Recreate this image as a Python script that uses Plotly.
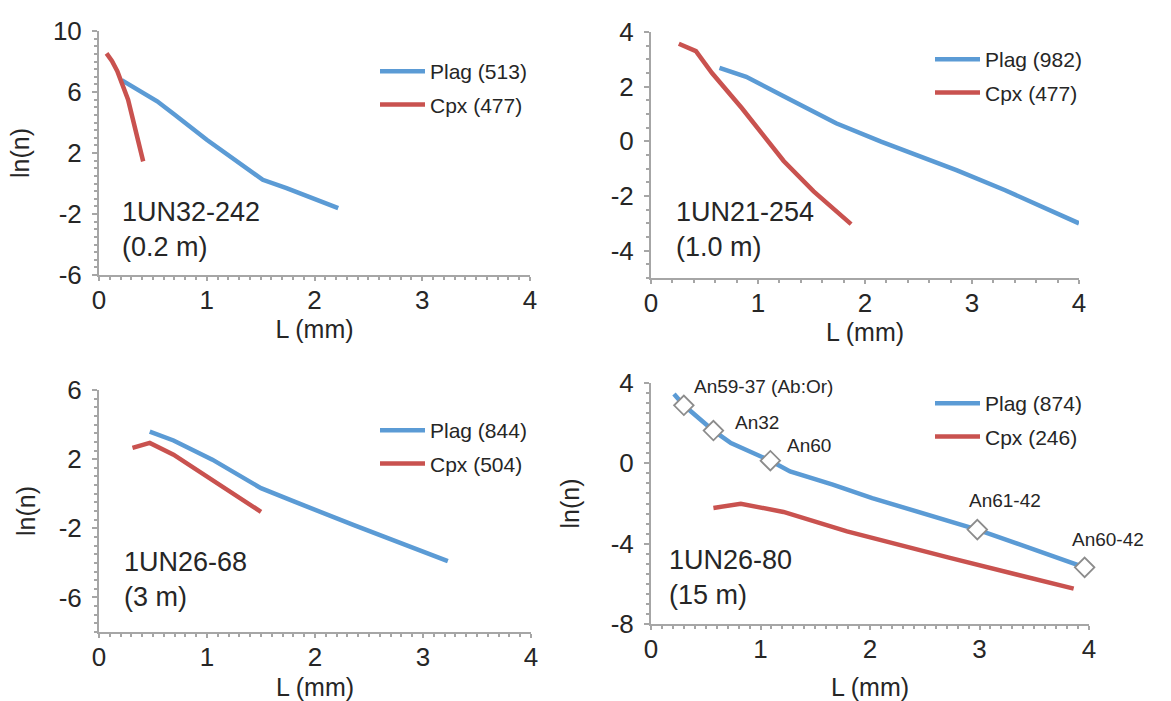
import plotly.graph_objects as go

# ---------------- data ----------------
# Panel 1: 1UN32-242 (0.2 m)
p1_plag_L = [0.21, 0.32, 0.54, 0.70, 1.00, 1.52, 1.74, 2.22]
p1_plag_ln = [6.78, 6.34, 5.39, 4.52, 2.87, 0.24, -0.30, -1.62]
p1_cpx_L = [0.07, 0.12, 0.17, 0.27, 0.41]
p1_cpx_ln = [8.53, 8.03, 7.37, 5.50, 1.45]

# Panel 2: 1UN21-254 (1.0 m)
p2_plag_L = [0.64, 0.89, 1.24, 1.73, 2.15, 2.86, 3.31, 4.00]
p2_plag_ln = [2.69, 2.36, 1.65, 0.66, -0.01, -1.06, -1.79, -3.00]
p2_cpx_L = [0.26, 0.42, 0.57, 0.85, 1.24, 1.52, 1.87]
p2_cpx_ln = [3.57, 3.30, 2.50, 1.21, -0.72, -1.83, -3.03]

# Panel 3: 1UN26-68 (3 m)
p3_plag_L = [0.47, 0.69, 1.05, 1.50, 1.81, 2.36, 3.23]
p3_plag_ln = [3.59, 3.08, 1.97, 0.32, -0.46, -1.82, -3.90]
p3_cpx_L = [0.31, 0.47, 0.69, 1.05, 1.50]
p3_cpx_ln = [2.65, 2.94, 2.26, 0.80, -1.05]

# Panel 4: 1UN26-80 (15 m)
p4_plag_L = [0.21, 0.30, 0.57, 0.73, 1.09, 1.27, 1.66, 2.02, 2.98, 3.96]
p4_plag_ln = [3.45, 2.89, 1.63, 1.01, 0.13, -0.40, -1.06, -1.73, -3.30, -5.18]
p4_cpx_L = [0.57, 0.82, 1.21, 1.79, 2.73, 3.86]
p4_cpx_ln = [-2.22, -2.01, -2.42, -3.39, -4.71, -6.24]

p4_comp_L = [0.30, 0.57, 1.09, 2.98, 3.96]
p4_comp_ln = [2.89, 1.63, 0.13, -3.30, -5.18]
p4_comp_labels = ["An59-37 (Ab:Or)", "An32", "An60", "An61-42", "An60-42"]

plag_names = ["Plag (513)", "Plag (982)", "Plag (844)", "Plag (874)"]
cpx_names = ["Cpx (477)", "Cpx (477)", "Cpx (504)", "Cpx (246)"]
sample_names = ["1UN32-242<br>(0.2 m)", "1UN21-254<br>(1.0 m)",
                "1UN26-68<br>(3 m)", "1UN26-80<br>(15 m)"]

x_ticks = [0, 1, 2, 3, 4]
y_ticks = [[-6, -2, 2, 6, 10], [-4, -2, 0, 2, 4], [-6, -2, 2, 6], [-8, -4, 0, 4]]
y_ranges = [[-6, 10], [-5, 4], [-8, 6], [-8, 4]]

x_label = "L (mm)"
y_label = "ln(n)"

# ---------------- styling ----------------
W, H = 1171, 701
BLUE = "#5B9BD5"
RED = "#C9524F"
AXC = "#A6A6A6"
TXT = "#262626"
FONT = "Liberation Sans, Arial, sans-serif"

# pixel boxes of each plot area: (left, right, top, bottom)
boxes = [(99, 530, 31, 275), (651, 1079, 32, 278),
         (99, 531, 390, 632), (651, 1089, 383, 624)]
ytitle_on = [True, False, True, True]
ytitle_standoff = [16, 16, 16, 24]
xminor = [0.1, 0.2, 0.1, 0.1]
yminor = [0.5, 0.5, 0.5, 0.5]
xtitle_standoff = [6, 6, 11, 19]
legend_pos = [(375, 51), (930, 39), (375, 410), (930, 383)]
sample_pos = [(120, 230), (674, 230), (122, 579), (667, 577)]

data = [
    (p1_plag_L, p1_plag_ln, p1_cpx_L, p1_cpx_ln),
    (p2_plag_L, p2_plag_ln, p2_cpx_L, p2_cpx_ln),
    (p3_plag_L, p3_plag_ln, p3_cpx_L, p3_cpx_ln),
    (p4_plag_L, p4_plag_ln, p4_cpx_L, p4_cpx_ln),
]

fig = go.Figure()
layout = dict(
    width=W, height=H, margin=dict(l=0, r=0, t=0, b=0, autoexpand=False),
    paper_bgcolor="white", plot_bgcolor="white",
    font=dict(family=FONT, color=TXT),
    showlegend=True,
)
annotations = []

for i in range(4):
    sfx = "" if i == 0 else str(i + 1)
    xa, ya = "x" + sfx, "y" + sfx
    leg = "legend" + sfx
    pl, pln, cl, cln = data[i]
    fig.add_trace(go.Scatter(x=pl, y=pln, mode="lines", name=plag_names[i],
                             line=dict(color=BLUE, width=4.5), xaxis=xa, yaxis=ya,
                             legend=leg, legendgroup="plag" + sfx))
    fig.add_trace(go.Scatter(x=cl, y=cln, mode="lines", name=cpx_names[i],
                             line=dict(color=RED, width=4.5), xaxis=xa, yaxis=ya,
                             legend=leg, legendgroup="cpx" + sfx))
    l, r, t, b = boxes[i]
    layout["xaxis" + sfx] = dict(
        domain=[l / W, r / W], anchor=ya, range=[0, 4], automargin=False,
        tickvals=x_ticks, ticktext=[str(v) for v in x_ticks],
        showline=True, linecolor=AXC, linewidth=2, ticks="outside", ticklen=4,
        tickwidth=1.5, tickcolor=AXC, showgrid=False, zeroline=False,
        ticklabelstandoff=-3,
        tickfont=dict(size=26, color=TXT, family=FONT),
        minor=dict(ticks="outside", ticklen=3, tickcolor=AXC, dtick=xminor[i], showgrid=False),
        title=dict(text=x_label, font=dict(size=25, color=TXT, family=FONT),
                   standoff=xtitle_standoff[i]),
    )
    layout["yaxis" + sfx] = dict(
        domain=[1 - b / H, 1 - t / H], anchor=xa, range=y_ranges[i], automargin=False,
        tickvals=y_ticks[i], ticktext=[str(v) for v in y_ticks[i]],
        showline=True, linecolor=AXC, linewidth=2, ticks="outside", ticklen=5,
        tickwidth=1.5, tickcolor=AXC, showgrid=False, zeroline=False,
        ticklabelstandoff=5,
        tickfont=dict(size=26, color=TXT, family=FONT),
        minor=dict(ticks="outside", ticklen=3, tickcolor=AXC, dtick=yminor[i], showgrid=False),
        title=dict(text=y_label if ytitle_on[i] else "",
                   font=dict(size=25, color=TXT, family=FONT), standoff=ytitle_standoff[i]),
    )
    lx, ly = legend_pos[i]
    layout[leg] = dict(
        x=lx / W, y=1 - ly / H, xanchor="left", yanchor="top",
        bgcolor="rgba(0,0,0,0)", font=dict(size=21, color=TXT, family=FONT),
        traceorder="grouped", tracegroupgap=3, itemwidth=45,
    )
    sx, sy = sample_pos[i]
    annotations.append(dict(
        xref="paper", yref="paper", x=sx / W, y=1 - sy / H, xanchor="left",
        yanchor="middle", align="left", showarrow=False, text=sample_names[i],
        font=dict(size=27, color=TXT, family=FONT),
    ))

# composition markers on panel 4
fig.add_trace(go.Scatter(x=p4_comp_L, y=p4_comp_ln, mode="markers", showlegend=False,
                         cliponaxis=False,
                         marker=dict(symbol="diamond", size=15, color="white",
                                     line=dict(color="#8C8C8C", width=1.8)),
                         xaxis="x4", yaxis="y4"))
label_shift = [(8, 19), (20, 8), (15, 15), (-10, 29), (-15, 28)]
for xv, yv, txt, (dx, dy) in zip(p4_comp_L, p4_comp_ln, p4_comp_labels, label_shift):
    annotations.append(dict(
        xref="x4", yref="y4", x=xv, y=yv, xanchor="left", yanchor="middle",
        xshift=dx, yshift=dy, showarrow=False, text=txt,
        font=dict(size=19, color=TXT, family=FONT),
    ))

layout["annotations"] = annotations
fig.update_layout(**layout)
fig.write_html("out.html")
